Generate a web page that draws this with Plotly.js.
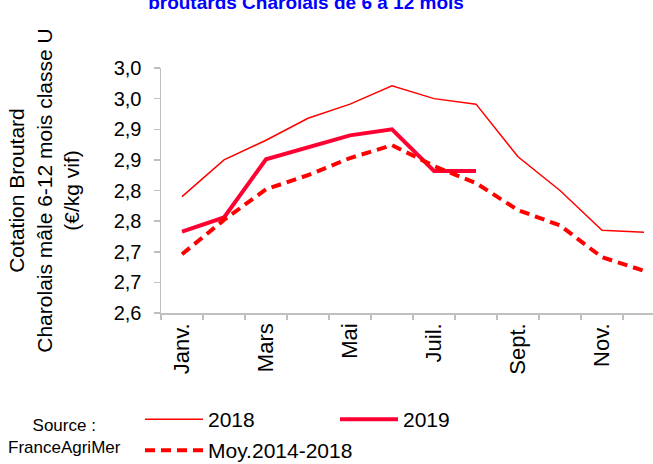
<!DOCTYPE html>
<html>
<head>
<meta charset="utf-8">
<script src="https://cdn.plot.ly/plotly-3.0.1.min.js"></script>
<style>html,body{margin:0;padding:0;background:#fff}#chart{width:653px;height:464px}</style>
</head>
<body>
<div id="chart"></div>
<script>
var months = ['Janv.','Févr.','Mars','Avr.','Mai','Juin','Juil.','Août','Sept.','Oct.','Nov.','Déc.'];
var shownMonths = ['Janv.','','Mars','','Mai','','Juil.','','Sept.','','Nov.',''];
var y2018 = [2.790, 2.850, 2.882, 2.918, 2.941, 2.971, 2.950, 2.941, 2.855, 2.800, 2.735, 2.732];
var y2019 = [2.733, 2.756, 2.851, 2.871, 2.890, 2.900, 2.832, 2.832, null, null, null, null];
var yMoy = [2.696, 2.752, 2.802, 2.825, 2.853, 2.874, 2.840, 2.812, 2.768, 2.743, 2.691, 2.669];
var yTickVals = [2.60, 2.65, 2.70, 2.75, 2.80, 2.85, 2.90, 2.95, 3.00];
var yTickText = ['2,6','2,7','2,7','2,8','2,8','2,9','2,9','3,0','3,0'];
var seriesNames = ['2018', '2019', 'Moy.2014-2018'];

var font = 'Liberation Sans, Arial, sans-serif';
var traces = [
  {x: months, y: y2018, name: seriesNames[0], type: 'scatter', mode: 'lines', legend: 'legend',
   line: {color: '#FF0000', width: 1.5}},
  {x: months, y: y2019, name: seriesNames[1], type: 'scatter', mode: 'lines', legend: 'legend',
   line: {color: '#FF0033', width: 4}},
  {x: months, y: yMoy, name: seriesNames[2], type: 'scatter', mode: 'lines', legend: 'legend2',
   line: {color: '#FF0000', width: 4, dash: '10px,6px'}}
];
var legendCommon = {orientation: 'h', xanchor: 'left', yanchor: 'top', xref: 'container', yref: 'container',
  entrywidthmode: 'pixels', itemwidth: 58,
  font: {family: font, size: 21, color: '#000'}, bgcolor: 'rgba(0,0,0,0)'};
var layout = {
  width: 653, height: 464,
  margin: {l: 161, r: 0, t: 68, b: 151, pad: 0},
  paper_bgcolor: '#fff', plot_bgcolor: '#fff',
  font: {family: font, size: 20, color: '#000'},
  title: {text: 'broutards Charolais de 6 à 12 mois', font: {family: font, size: 19, color: '#0000FF', weight: 'bold'},
          x: 306/653, xanchor: 'center', xref: 'container', y: 1 - 2.5/464, yref: 'container', yanchor: 'middle'},
  showlegend: true,
  legend: Object.assign({}, legendCommon, {x: 140/653, y: 1 - 399/464, entrywidth: 122}),
  legend2: Object.assign({}, legendCommon, {x: 140/653, y: 1 - 430/464, entrywidth: 220}),
  xaxis: {type: 'category', range: [-0.5, 11.214], tickson: 'boundaries', automargin: false,
          tickvals: months, ticktext: shownMonths, tickangle: -90,
          ticks: 'outside', ticklen: 5, tickcolor: '#BFBFBF', tickwidth: 1.5,
          showline: true, linecolor: '#BFBFBF', linewidth: 1.5, showgrid: false, zeroline: false,
          tickfont: {family: font, size: 22, color: '#000'}, fixedrange: true},
  yaxis: {range: [2.6, 3.0], tickvals: yTickVals, ticktext: yTickText, automargin: false,
          ticks: 'outside', ticklen: 6, tickcolor: '#BFBFBF', tickwidth: 1.5, ticklabelstandoff: 8,
          showline: true, linecolor: '#BFBFBF', linewidth: 1.5, showgrid: false, zeroline: false,
          tickfont: {family: font, size: 20, color: '#000'},
          title: {text: 'Cotation Broutard<br>Charolais mâle 6-12 mois classe U<br>(€/kg vif)',
                  font: {family: font, size: 21, color: '#000'}, standoff: 28},
          fixedrange: true},
  annotations: [
    {text: 'Source :<br>FranceAgriMer', xref: 'paper', yref: 'paper', x: (64 - 161)/492, y: (313 - 436)/245,
     xanchor: 'center', yanchor: 'middle', align: 'center', showarrow: false,
     font: {family: font, size: 17, color: '#000'}}
  ]
};
Plotly.newPlot('chart', traces, layout, {displayModeBar: false, staticPlot: true});
</script>
</body>
</html>
